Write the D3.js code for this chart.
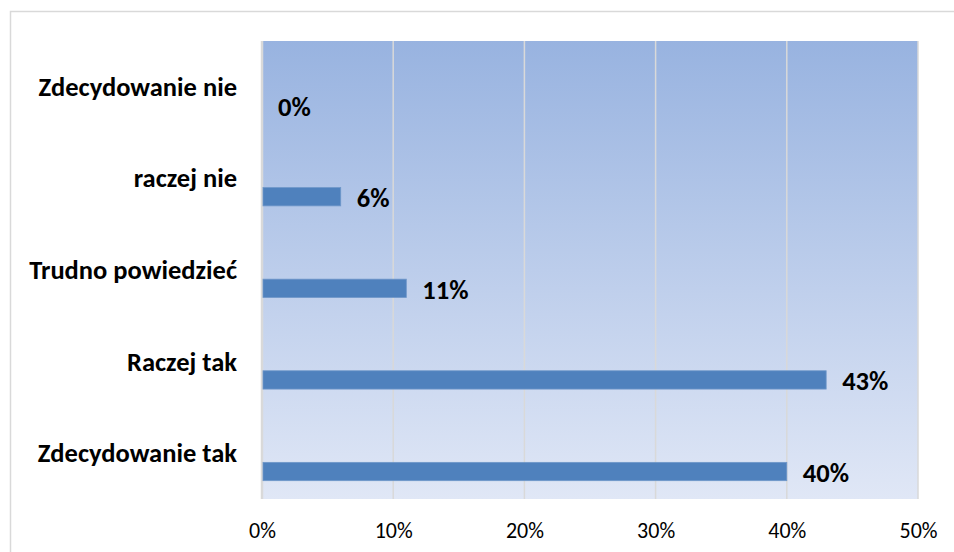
<!DOCTYPE html>
<html>
<head>
<meta charset="utf-8">
<script src="https://cdn.jsdelivr.net/npm/d3@7"></script>
<style>
  html, body { margin: 0; padding: 0; background: #fff; }
  svg { display: block; }
</style>
</head>
<body>
<svg id="chart" width="954" height="552"></svg>
<script>
const categories = ["Zdecydowanie nie", "raczej nie", "Trudno powiedzieć", "Raczej tak", "Zdecydowanie tak"];
const values = [0, 0.06, 0.11, 0.43, 0.40];
const valueLabels = ["0%", "6%", "11%", "43%", "40%"];
const tickValues = [0, 0.1, 0.2, 0.3, 0.4, 0.5];
const tickLabels = ["0%", "10%", "20%", "30%", "40%", "50%"];

const W = 954, H = 552;
const plot = { left: 262, right: 918, top: 41, bottom: 499 };
const FONT = "Carlito, Lato, 'Open Sans', sans-serif";

const svg = d3.select("#chart");

// outer chart border
svg.append("rect")
  .attr("x", 10.5).attr("y", 11.5)
  .attr("width", W + 10).attr("height", H + 10)
  .attr("fill", "#fff").attr("stroke", "#d9d9d9").attr("stroke-width", 1.5);

const defs = svg.append("defs");
const grad = defs.append("linearGradient").attr("id", "bg").attr("x1", 0).attr("y1", 0).attr("x2", 0).attr("y2", 1);
grad.append("stop").attr("offset", "0%").attr("stop-color", "#98b3e0");
grad.append("stop").attr("offset", "100%").attr("stop-color", "#e0e7f6");

const x = d3.scaleLinear().domain([0, 0.5]).range([plot.left, plot.right]);
const y = d3.scaleBand().domain(categories).range([plot.top, plot.bottom]).paddingInner(0).paddingOuter(0);
// Excel-style cluster of 3 slots, gap width 200%; the visible series sits in the lowest slot
const slots = ["c", "b", "a"];
const inner = d3.scaleBand().domain(slots).range([0, y.bandwidth()]).paddingInner(0).paddingOuter(1);

svg.append("rect")
  .attr("x", plot.left).attr("y", plot.top)
  .attr("width", plot.right - plot.left).attr("height", plot.bottom - plot.top)
  .attr("fill", "url(#bg)");

// gridlines
svg.append("g").selectAll("line").data(tickValues).join("line")
  .attr("x1", d => x(d)).attr("x2", d => x(d))
  .attr("y1", plot.top).attr("y2", plot.bottom)
  .attr("stroke", "#d9d9d9").attr("stroke-width", d => d === 0 ? 2.5 : 1.5);

// bars
svg.append("g").selectAll("rect").data(categories).join("rect")
  .attr("x", x(0) + 1)
  .attr("y", d => y(d) + inner("a"))
  .attr("width", (d, i) => Math.max(0, x(values[i]) - x(0) - 1))
  .attr("height", inner.bandwidth())
  .attr("fill", "#4f81bd")
  .attr("stroke", (d, i) => values[i] > 0 ? "#6f97c9" : "none")
  .attr("stroke-width", 0.8);

// value labels
svg.append("g").selectAll("text").data(categories).join("text")
  .attr("x", (d, i) => x(values[i]) + 16)
  .attr("y", d => y(d) + inner("a") + inner.bandwidth() / 2 + 1.5)
  .attr("dominant-baseline", "central")
  .attr("font-family", FONT).attr("font-weight", "bold").attr("font-size", 26.5)
  .attr("fill", "#000")
  .text((d, i) => valueLabels[i]);

// category labels
svg.append("g").selectAll("text").data(categories).join("text")
  .attr("x", 237)
  .attr("y", d => y(d) + y.bandwidth() / 2)
  .attr("text-anchor", "end")
  .attr("dominant-baseline", "central")
  .attr("font-family", FONT).attr("font-weight", "bold").attr("font-size", 26.5)
  .attr("fill", "#000")
  .text(d => d);

// x axis tick labels
const xAxis = d3.axisBottom(x).tickValues(tickValues).tickFormat((d, i) => tickLabels[i]).tickSize(0).tickPadding(0);
const gx = svg.append("g").attr("transform", `translate(0,${plot.bottom})`).call(xAxis);
gx.select(".domain").remove();
gx.selectAll("text")
  .attr("y", 31).attr("dy", null)
  .attr("dominant-baseline", "central")
  .attr("font-family", FONT).attr("font-size", 22).attr("fill", "#000");
</script>
</body>
</html>
